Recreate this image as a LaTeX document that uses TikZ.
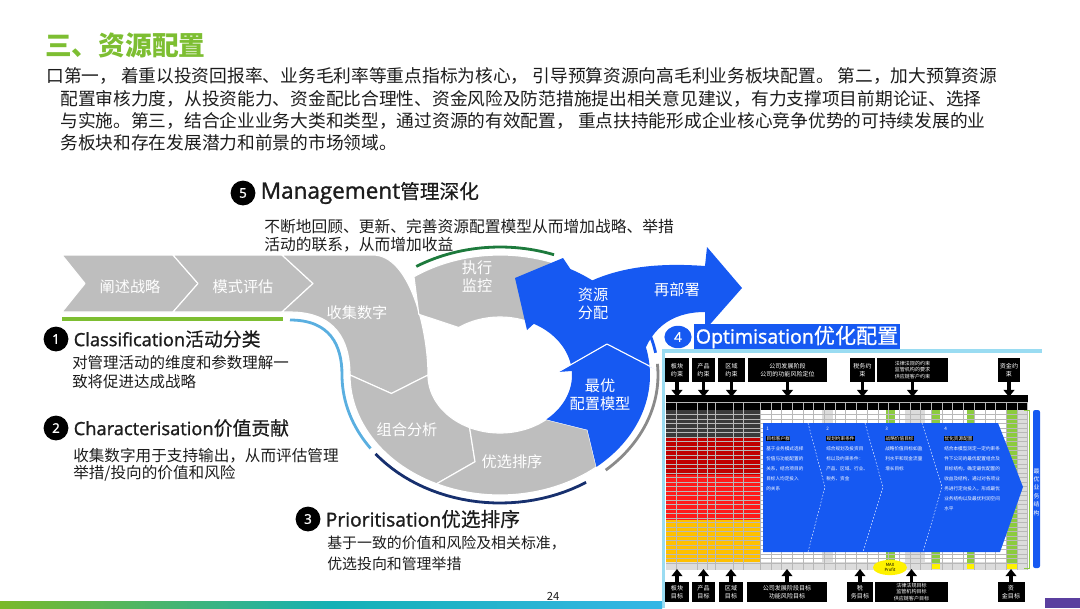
\documentclass[tikz,border=0pt]{standalone}
\usepackage{fontspec}
\setmainfont{Noto Sans CJK SC}
\newfontfamily\latinfont{Open Sans}[FakeBold=1.4]
\newfontfamily\headcjk{Noto Sans CJK SC}[FakeBold=0.5]
\usepackage{xcolor}
\usetikzlibrary{
    arrows.meta,
    shapes.geometric,
    positioning
}

\definecolor{titlegreen}{HTML}{7DBE32}
\definecolor{txtdark}{HTML}{1C1C1C}
\definecolor{ringgray}{HTML}{BEBEBE}
\definecolor{ringblue}{HTML}{1659F2}
\definecolor{arcgreen}{HTML}{1D7A3C}
\definecolor{arclblue}{HTML}{5AAFE0}
\definecolor{arcnavy}{HTML}{17306E}
\definecolor{arcgray}{HTML}{8A8A8A}
\definecolor{framecyan}{HTML}{9ADCF2}
\definecolor{tdark}{HTML}{3A3A3A}
\definecolor{tdred}{HTML}{C00000}
\definecolor{tred}{HTML}{FF1A1A}
\definecolor{torange}{HTML}{FFC000}
\definecolor{tlight}{HTML}{DCDCDC}
\definecolor{tgreen}{HTML}{8CCB3F}
\definecolor{barleft}{HTML}{7AB929}
\definecolor{barmid}{HTML}{14B1B5}
\definecolor{barright}{HTML}{35B6E6}
\definecolor{barpurple}{HTML}{5B3F9F}

% ring segment: outer arc, chevron tip at the end, notch at the start
\newcommand{\ringpart}[2]{(#1:150 and 120) -- plot[domain=#1:#2, samples=30] ({150*cos(\x)}, {120*sin(\x)}) -- ({#2-12}:111 and 89) -- (#2:72 and 58) -- plot[domain=#2:#1, samples=30] ({72*cos(\x)}, {58*sin(\x)}) -- ({#1-12}:111 and 89) -- cycle}
\newcommand{\darkmark}[1]{{\setlength{\fboxsep}{0.3pt}\colorbox{black}{#1}}}

\tikzset{
    badge/.style={circle, fill=black, text=white, inner sep=0pt, minimum size=0.62cm, font=\latinfont\fontsize{9.5}{9.5}\selectfont},
    headtxt/.style={anchor=west, inner sep=0pt, text=txtdark},
    desctxt/.style={anchor=west, align=left, inner sep=0pt, text=txtdark},
    paratxt/.style={anchor=west, inner sep=0pt, text=txtdark, font=\fontsize{12.6}{14}\selectfont},
    ringtxt/.style={text=white, align=center, inner sep=0pt, font=\fontsize{10.8}{12.8}\selectfont},
    graypart/.style={fill=ringgray, draw=white, line width=0.8pt, line join=round},
    decoarc/.style={line width=2pt},
    tagbox/.style={fill=black, text=white, align=center, inner sep=0pt, minimum height=0.6cm, font=\fontsize{4.3}{5.4}\selectfont},
    celltxt/.style={anchor=north west, align=left, inner sep=0pt, text=white, font=\fontsize{3.3}{7.1}\selectfont},
    gridline/.style={draw=black!28, line width=0.2pt},
    bigarrow/.style={line width=2.4pt, -{Triangle[width=7.5pt, length=5pt]}}
}

\begin{document}
\begin{tikzpicture}[x=0.025cm, y=-0.025cm]
\useasboundingbox (0,0) rectangle (1080,608);

% title and introduction
\node[anchor=west, inner sep=0pt, text=titlegreen, font=\fontsize{19}{22}\selectfont\bfseries] (title) at (45,45) {三、资源配置};
\node[paratxt] (p1) at (46,76) {口第一， 着重以投资回报率、业务毛利率等重点指标为核心， 引导预算资源向高毛利业务板块配置。 第二，加大预算资源};
\node[paratxt] (p2) at (60,99) {配置审核力度，从投资能力、资金配比合理性、资金风险及防范措施提出相关意见建议，有力支撑项目前期论证、选择};
\node[paratxt] (p3) at (60,121) {与实施。第三，结合企业业务大类和类型，通过资源的有效配置， 重点扶持能形成企业核心竞争优势的可持续发展的业};
\node[paratxt] (p4) at (60,143) {务板块和存在发展潜力和前景的市场领域。};

% chevron band
\draw[graypart] (62,255) -- (173,255) -- (198,283.5) -- (173,312) -- (62,312) -- (85,283.5) -- cycle;
\draw[graypart] (173,255) -- (282,255) -- (313,283.5) -- (282,312) -- (173,312) -- (198,283.5) -- cycle;
\draw[graypart] (282,255) -- (373,255) .. controls (410,255) and (428,330) .. (428,375) -- (391.4,393.5) -- (350,375) .. controls (350,340) and (335,312) .. (290,312) -- (282,312) -- (313,283.5) -- cycle;
\draw[line width=2.8pt, titlegreen] (62,319) -- (283,319);

% ring
\begin{scope}[shift={(500,375)}]
    \draw[graypart] \ringpart{180}{115};
    \draw[graypart] \ringpart{115}{50};
    \draw[graypart] \ringpart{300}{235};
    \fill[ringblue] (-4:150 and 120) -- plot[domain=-4:-62, samples=30] ({150*cos(\x)}, {120*sin(\x)}) -- (63,-117) -- (15,-97) -- (27,-45) -- plot[domain=-62:-4, samples=30] ({72*cos(\x)}, {58*sin(\x)}) -- cycle;
\end{scope}
\fill[ringblue] (560,300) .. controls (600,268) and (650,262) .. (705,266) -- (707,247) -- (742,288) -- (705,330) -- (705,312) .. controls (670,312) and (648,330) .. (640,365) -- (600,362) -- cycle;
\begin{scope}[shift={(500,375)}]
    \fill[ringblue] (50:150 and 120) -- plot[domain=50:-4, samples=30] ({150*cos(\x)}, {120*sin(\x)}) -- (161,-3) -- (107,-31) -- (58,-3) -- plot[domain=-4:50, samples=30] ({72*cos(\x)}, {58*sin(\x)}) -- (38:111 and 89) -- cycle;
    \draw[white, line width=0.8pt, line join=round] (58,-3) -- (107,-31) -- (161,-3);
    % outline arcs
    \draw[decoarc, arcgreen] plot[domain=238:290, samples=30] ({158*cos(\x)}, {128*sin(\x)});
    \draw[decoarc, arcnavy] plot[domain=142:57, samples=30] ({158*cos(\x)}, {128*sin(\x)});
    \draw[decoarc, arcgray] plot[domain=48:-5, samples=30] ({158*cos(\x)}, {128*sin(\x)});
    \draw[decoarc, ringblue] plot[domain=-10:-24, samples=10] ({158*cos(\x)}, {128*sin(\x)});
    \draw[decoarc, arclblue] (-210,-55) .. controls (-170,-55) and (-158,-30) .. (-158,0) -- plot[domain=180:145, samples=20] ({158*cos(\x)}, {128*sin(\x)});
\end{scope}

\node[ringtxt] (s1) at (130,287) {阐述战略};
\node[ringtxt] (s2) at (243,287) {模式评估};
\node[ringtxt] (s3) at (357,313) {收集数字};
\node[ringtxt] (s4) at (407,430) {组合分析};
\node[ringtxt] (s5) at (512,462) {优选排序};
\node[ringtxt] (s6) at (600,395) {最优\\配置模型};
\node[ringtxt] (s7) at (593,304) {资源\\分配};
\node[ringtxt] (s8) at (477,277) {执行\\监控};
\node[ringtxt] (s9) at (677,290) {再部署};

% numbered headings
\node[badge] (n5) at (243,193) {5};
\node[headtxt, right=0.12cm of n5] (h5) {{\latinfont\fontsize{16}{18}\selectfont Management}{\headcjk\fontsize{14}{16}\selectfont 管理深化}};
\node[desctxt, font=\fontsize{11.2}{12.8}\selectfont] (d5) at (264,236) {不断地回顾、更新、完善资源配置模型从而增加战略、举措\\活动的联系，从而增加收益};

\node[badge] (n1) at (56,339) {1};
\node[headtxt, right=0.12cm of n1] (h1) {{\latinfont\fontsize{13}{15}\selectfont Classification}{\headcjk\fontsize{13.4}{15}\selectfont 活动分类}};
\node[desctxt, font=\fontsize{11}{13.5}\selectfont] (d1) at (72,372) {对管理活动的维度和参数理解一\\致将促进达成战略};

\node[badge] (n2) at (56,428) {2};
\node[headtxt, right=0.12cm of n2] (h2) {{\latinfont\fontsize{13}{15}\selectfont Characterisation}{\headcjk\fontsize{13.4}{15}\selectfont 价值贡献}};
\node[desctxt, font=\fontsize{11.1}{12.4}\selectfont] (d2) at (73,465) {收集数字用于支持输出，从而评估管理\\举措/投向的价值和风险};

\node[badge] (n3) at (308,519) {3};
\node[headtxt, right=0.12cm of n3] (h3) {{\latinfont\fontsize{13.7}{15}\selectfont Prioritisation}{\headcjk\fontsize{14}{16}\selectfont 优选排序}};
\node[desctxt, font=\fontsize{10.6}{14.9}\selectfont] (d3) at (327,553) {基于一致的价值和风险及相关标准，\\优选投向和管理举措};

\node[badge, ellipse, fill=ringblue, minimum width=0.68cm, minimum height=0.56cm] (n4) at (678,337) {4};
\node[fill=ringblue, text=white, inner sep=1.2pt, right=0.05cm of n4] (h4) {{\latinfont\fontsize{13.9}{15}\selectfont Optimisation}{\headcjk\fontsize{15}{16}\selectfont 优化配置}};

% optimisation table
\fill[framecyan] (662,349) rectangle (1042,353);
\fill[framecyan] (662,349) rectangle (665,608);
\fill[black] (666,395) rectangle (1028,410);
\fill[tdark] (666,410) rectangle (760,437);
\fill[tdred] (666,437) rectangle (760,475);
\fill[tred] (666,475) rectangle (760,520);
\fill[torange] (666,520) rectangle (760,562);
\fill[tlight] (666,562) rectangle (1028,570);
\foreach \a/\b in {822/833, 905/925, 1017/1028}
    \fill[tlight] (\a,410) rectangle (\b,562);
\foreach \a/\b in {886/895, 931/940, 967/975, 1007/1017}
    \fill[tgreen] (\a,410) rectangle (\b,566);
\foreach \a/\b in {931/940, 967/975, 1007/1017}
    \fill[yellow] (\a,564) rectangle (\b,569);
\foreach \y in {414.5,419,...,566}
    \draw[gridline] (666,\y) -- (1028,\y);
\foreach \x in {676,697,707,715,733,743,760}
    \draw[gridline] (\x,403) -- (\x,570);
\foreach \x in {770.7,781.4,...,1028}
    \draw[gridline] (\x,403) -- (\x,570);
\draw[gridline] (666,402.5) -- (1028,402.5);
\draw[tgreen, line width=0.5pt] (1024,410) -- (1029,410) -- (1029,568) -- (1024,568);

\fill[ringblue] (763,423) -- (998,423) -- (1023,487) -- (1000,552) -- (763,552) -- cycle;
\foreach \a/\b/\c in {808/825/808, 865/883/863, 922/942/923}
    \draw[white, line width=0.3pt, dash pattern=on 1.2pt off 1.2pt] (\a,423) -- (\b,487) -- (\c,552);
\node[celltxt] (c1) at (766,427) {1\\\darkmark{目标客户群}\\基于业务模式选择\\价值与功能配置的\\关系，结合项目的\\目标人均定投入\\的关系};
\node[celltxt] (c2) at (826,427) {2\\\darkmark{规划约束条件}\\综合规划及投资目\\标以及约束条件：\\产品、区域、行业、\\税务、资金};
\node[celltxt] (c3) at (885,427) {3\\\darkmark{战略价值目标}\\战略价值目标如盈\\利水平和现金流量\\增长目标};
\node[celltxt] (c4) at (944,427) {4\\\darkmark{优化资源配置}\\结合本模型测定一定约束条\\件下公司的最优配置组合及\\目标结构，确定最优配置的\\收益及结构，通过对各项业\\务进行定向投入，形成最优\\业务结构以及最优利润空间\\水平};

\fill[ringblue, rounded corners=1.5pt] (1033,410) rectangle (1040,568);
\node[text=white, align=center, inner sep=0pt, font=\fontsize{4.2}{6}\selectfont] (bar) at (1036.5,492) {最\\优\\业\\务\\结\\构};
\node[ellipse, fill=yellow, inner sep=0pt, minimum width=0.85cm, minimum height=0.38cm, align=center, font=\fontsize{3}{3.6}\selectfont] (maxp) at (890,567.5) {MAX\\Profit};

% constraint boxes above
\node[tagbox, minimum width=0.6cm] (k1) at (677,370) {板块\\约束};
\node[tagbox, minimum width=0.575cm] (k2) at (703.5,370) {产品\\约束};
\node[tagbox, minimum width=0.675cm] (k3) at (731.5,370) {区域\\约束};
\node[tagbox, minimum width=1.975cm] (k4) at (787.5,370) {公司发展阶段\\公司的功能风险定位};
\node[tagbox, minimum width=0.625cm] (k5) at (862.5,370) {税务约\\束};
\node[tagbox, minimum width=1.775cm, font=\fontsize{3.6}{4.6}\selectfont] (k6) at (912.5,370) {法律法规的约束\\监管机构的要求\\供应链客户约束};
\node[tagbox, minimum width=0.55cm] (k7) at (1009,370) {资金约\\束};
\coordinate (thead) at (0,397);
\foreach \i in {1,...,7}
    \draw[bigarrow] (k\i.south) -- (k\i.south |- thead);

% target boxes below
\node[tagbox, minimum height=0.5cm, minimum width=0.6cm] (m1) at (677,592) {板块\\目标};
\node[tagbox, minimum height=0.5cm, minimum width=0.575cm] (m2) at (703.5,592) {产品\\目标};
\node[tagbox, minimum height=0.5cm, minimum width=0.6cm] (m3) at (731,592) {区域\\目标};
\node[tagbox, minimum height=0.5cm, minimum width=2cm] (m4) at (787,592) {公司发展阶段目标\\功能风险目标};
\node[tagbox, minimum height=0.5cm, minimum width=0.65cm] (m5) at (860,592) {税\\务目标};
\node[tagbox, minimum height=0.5cm, minimum width=1.825cm, font=\fontsize{3.6}{4.6}\selectfont] (m6) at (911.5,592) {法律法规目标\\监管机构目标\\供应链客户目标};
\node[tagbox, minimum height=0.5cm, minimum width=0.675cm] (m7) at (1011,592) {资\\金目标};
\coordinate (tfoot) at (0,569);
\foreach \i in {1,...,7}
    \draw[bigarrow] (m\i.north) -- (m\i.north |- tfoot);

% footer
\node[font=\fontsize{8}{9}\selectfont, text=txtdark, inner sep=0pt] (pg) at (553,596) {24};
\shade[left color=barleft, right color=barright, middle color=barmid] (0,601) rectangle (662,608);
\fill[barpurple] (1045,598) rectangle (1080,608);
\end{tikzpicture}
\end{document}
